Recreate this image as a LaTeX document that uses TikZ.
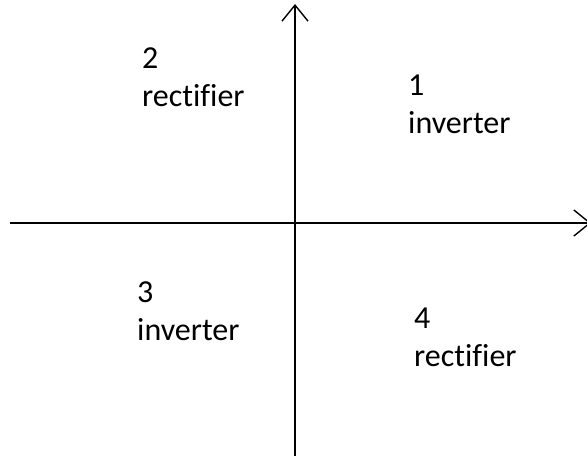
\documentclass[tikz,border=0pt]{standalone}
\usepackage{fontspec}
\setmainfont{Carlito}[Ligatures=NoCommon]
\usetikzlibrary{arrows.meta}
\begin{document}
\begin{tikzpicture}[x=1pt,y=-1pt,
  axis/.style={line width=1.6pt,-{Straight Barb[length=16pt,width=26pt,line width=1.4pt]}},
  every node/.style={font=\fontsize{32}{38}\selectfont,align=left,inner sep=0pt,anchor=north west}]
\useasboundingbox (0,0) rectangle (587,459);
% axes
\coordinate (west) at (10,223); \coordinate (east) at (591,223);
\coordinate (south) at (295,456); \coordinate (north) at (295,4);
\draw[axis] (west) -- (east);
\draw[axis] (south) -- (north);
% quadrants
\node (q1) at (408,75) {1\\inverter};
\node (q2) at (142,48) {2\\rectifier};
\node (q3) at (137,282) {3\\inverter};
\node (q4) at (414,308) {4\\rectifier};
\end{tikzpicture}
\end{document}
